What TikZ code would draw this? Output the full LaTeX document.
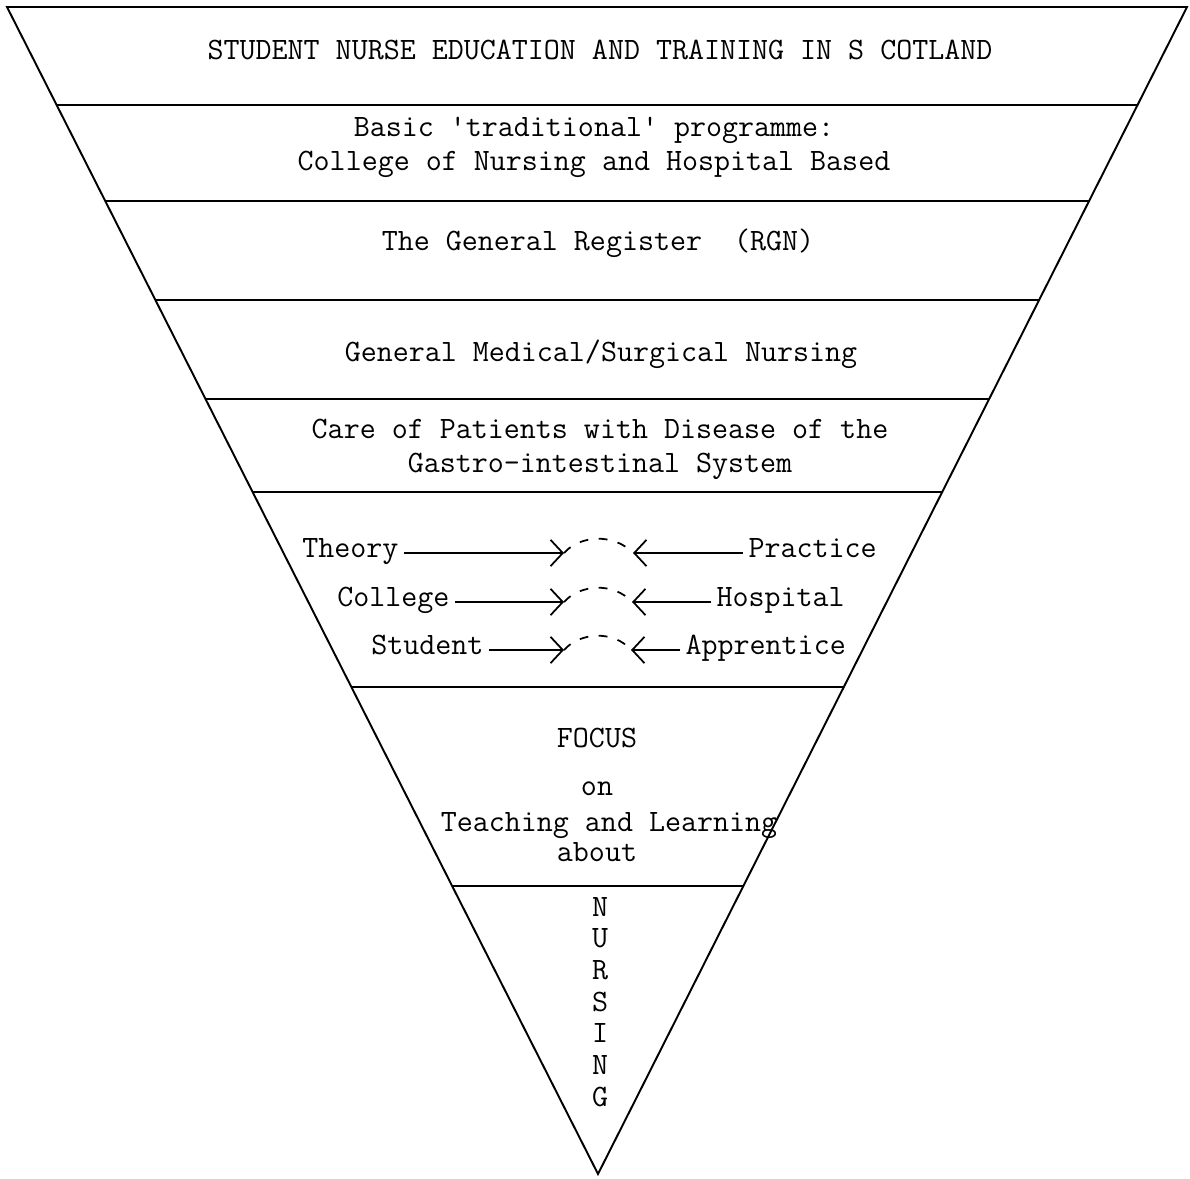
\documentclass[tikz,border=0pt]{standalone}
\usepackage{fontspec}
\usepackage{tikz}
\usetikzlibrary{positioning,arrows.meta,calc}

\tikzset{
  typed/.style={font=\ttfamily\fontsize{17.7}{19.4}\selectfont, inner sep=0pt, align=center},
  side/.style={typed, inner xsep=3pt},
  band/.style={draw=black, line width=1.1pt},
  link/.style={draw=black, line width=1pt, -{Straight Barb[length=7pt,width=15pt]}},
  gap/.style={draw=black, line width=1pt, dash pattern=on 5pt off 6pt},
}

\begin{document}
\begin{tikzpicture}[x=0.02cm, y=-0.02cm]
\useasboundingbox (0,0) rectangle (1190,1179);

% the funnel and its bands
\coordinate (tl) at (7,7);
\coordinate (tr) at (1187,7);
\coordinate (tip) at (598,1174);
\path[band] (tl) -- (tr) -- (tip) -- cycle;
\foreach \y in {105,201,300,399,492,687,886}
  \path[band] ($(tl)!{(\y-7)/1167}!(tip)$) -- ($(tr)!{(\y-7)/1167}!(tip)$);

\node[typed, anchor=base] (title) at (600,60)
     {STUDENT NURSE EDUCATION AND TRAINING IN S COTLAND};
\node[typed] (basic) at (594,147)
     {Basic 'traditional' programme:\\College of Nursing and Hospital Based};
\node[typed, anchor=base] (rgn) at (598,251) {The General Register~~(RGN)};
\node[typed, anchor=base] (medsurg) at (601,361) {General Medical/Surgical Nursing};
\node[typed] (care) at (600,449)
     {Care of Patients with Disease of the\\Gastro-intestinal System};

% theory / practice rows
\node[side, anchor=base east] (theory) at (404,557) {Theory};
\node[side, anchor=base west] (practice) at (743,557) {Practice};
\coordinate (t1) at (564,553);
\coordinate (t2) at (633,553);
\path[link] (theory.east |- t1) -- (t1);
\path[link] (practice.west |- t2) -- (t2);
\path[gap] (t1) .. controls (580,535) and (614,533) .. (t2);

\node[side, anchor=base east] (college) at (455,606) {College};
\node[side, anchor=base west] (hospital) at (711,606) {Hospital};
\coordinate (c1) at (564,602);
\coordinate (c2) at (632,602);
\path[link] (college.east |- c1) -- (c1);
\path[link] (hospital.west |- c2) -- (c2);
\path[gap] (c1) .. controls (580,584) and (614,582) .. (c2);

\node[side, anchor=base east] (student) at (489,654) {Student};
\node[side, anchor=base west] (apprentice) at (680,654) {Apprentice};
\coordinate (s1) at (564,650);
\coordinate (s2) at (631,650);
\path[link] (student.east |- s1) -- (s1);
\path[link] (apprentice.west |- s2) -- (s2);
\path[gap] (s1) .. controls (580,632) and (614,630) .. (s2);

\node[typed, anchor=base] (focus) at (597,747) {FOCUS};
\node[typed, anchor=base] (on) at (597,795) {on};
\node[typed, anchor=base] (teach) at (609,831) {Teaching and Learning};
\node[typed, anchor=base] (about) at (597,861) {about};

\foreach \l [count=\i] in {N,U,R,S,I,N,G}
  \node[typed, anchor=base] (n\i) at (600,{916+31.7*(\i-1)}) {\l};
\end{tikzpicture}
\end{document}
